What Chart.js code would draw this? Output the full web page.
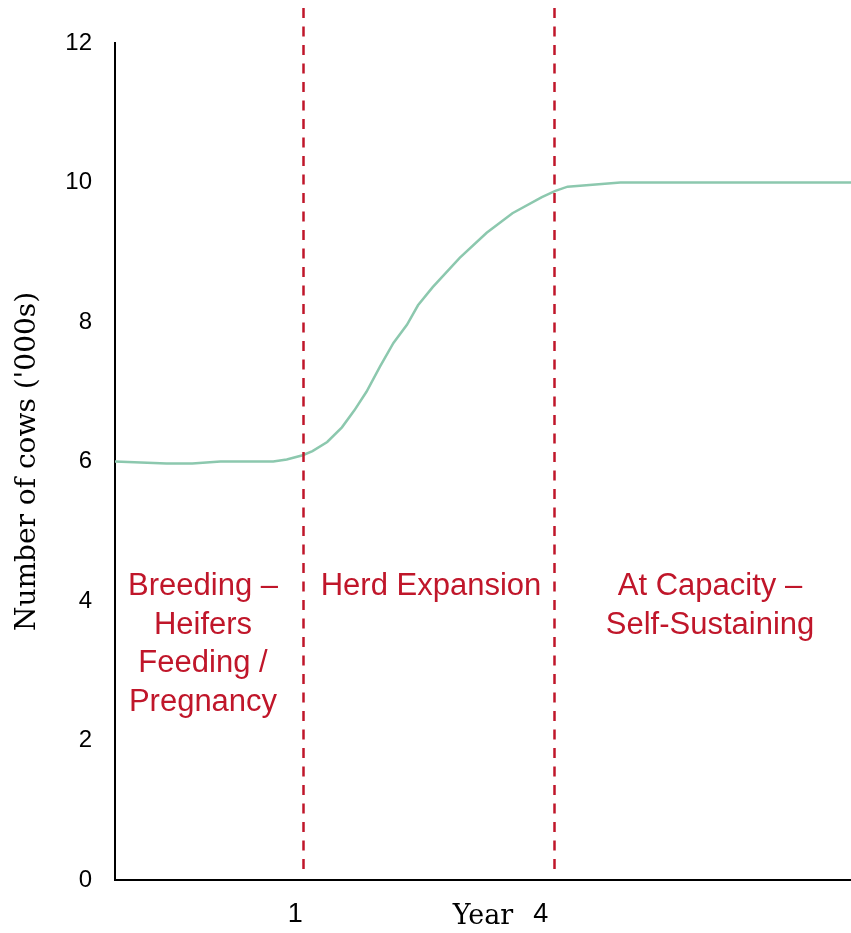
<!DOCTYPE html>
<html>
<head>
<meta charset="utf-8">
<script src="https://cdn.jsdelivr.net/npm/chart.js@4"></script>
<style>
  html, body { margin: 0; padding: 0; background: #fff; }
  #wrap { width: 851px; height: 933px; position: relative; }
</style>
</head>
<body>
<div id="wrap"><canvas id="herdChart"></canvas></div>
<script>
// herd size by month since start ('000 cows)
const months = [0, 4.2, 6.3, 8.6, 12.9, 14.0, 15.3, 16.1, 17.3, 18.5, 19.5, 20.5, 21.6, 22.7, 23.8, 24.7, 25.9, 28.1, 30.3, 32.4, 34.8, 35.9, 36.9, 41.2, 60];
const cows = [6.0, 5.97, 5.97, 6.0, 6.0, 6.03, 6.09, 6.15, 6.28, 6.49, 6.73, 7.0, 7.36, 7.70, 7.96, 8.24, 8.50, 8.92, 9.28, 9.56, 9.79, 9.88, 9.94, 10.0, 10.0];

// year markers on the x axis
const yearTickValues = [14.7, 34.7];
const yearTickLabels = ['1', '4'];

// where one phase ends and the next begins
const phaseBounds = [15.3, 35.8];
const phaseLabels = [
    ['Breeding –', 'Heifers', 'Feeding /', 'Pregnancy'],
    ['Herd Expansion'],
    ['At Capacity –', 'Self-Sustaining']
];

const red = 'rgb(192, 22, 42)';
const sans = '"Liberation Sans", Arial, sans-serif';
const serif = '"DejaVu Serif", serif';

const phasePlugin = {
    id: 'phases',
    afterDatasetsDraw(chart) {
        const ctx = chart.ctx;
        const x = chart.scales.x;
        ctx.save();

        // dashed phase dividers
        ctx.strokeStyle = red;
        ctx.lineWidth = 2.5;
        ctx.setLineDash([10, 8.5]);
        phaseBounds.forEach(b => {
            const px = Math.round(x.getPixelForValue(b)) + 0.5;
            ctx.beginPath();
            ctx.moveTo(px, 8);
            ctx.lineTo(px, 876);
            ctx.stroke();
        });

        // phase names
        ctx.setLineDash([]);
        ctx.fillStyle = red;
        ctx.font = '31px ' + sans;
        ctx.textAlign = 'center';
        ctx.textBaseline = 'alphabetic';
        const centers = [203, 431, 710];
        phaseLabels.forEach((lines, i) => {
            lines.forEach((txt, j) => {
                ctx.fillText(txt, centers[i], 595 + j * 38.5);
            });
        });
        ctx.restore();
    }
};

const ctx = document.getElementById('herdChart').getContext('2d');
new Chart(ctx, {
    type: 'line',
    data: {
        datasets: [{
            data: months.map((m, i) => ({ x: m, y: cows[i] })),
            borderColor: 'rgb(140, 200, 174)',
            borderWidth: 2.5,
            pointRadius: 0,
            tension: 0,
            fill: false
        }]
    },
    options: {
        responsive: true,
        maintainAspectRatio: false,
        animation: false,
        layout: { padding: { top: 43, right: 0, left: 0, bottom: 0 } },
        plugins: {
            legend: { display: false },
            tooltip: { enabled: false }
        },
        scales: {
            x: {
                type: 'linear',
                min: 0,
                max: 60,
                grid: { display: false, drawTicks: false },
                border: { display: true, color: '#000', width: 2 },
                afterBuildTicks: axis => {
                    axis.ticks = yearTickValues.map(v => ({ value: v }));
                },
                afterFit: axis => { axis.height = 53; },
                ticks: {
                    autoSkip: false,
                    maxRotation: 0,
                    padding: 18,
                    color: '#000',
                    font: { family: sans, size: 27 },
                    callback: (v, i) => yearTickLabels[i]
                },
                title: {
                    display: true,
                    text: 'Year',
                    color: '#000',
                    font: { family: serif, size: 27 },
                    padding: { top: 0, bottom: 0 }
                }
            },
            y: {
                min: 0,
                max: 12,
                grid: { display: false, drawTicks: false },
                border: { display: true, color: '#000', width: 2 },
                afterFit: axis => { axis.width = 115; },
                ticks: {
                    stepSize: 2,
                    padding: 23,
                    color: '#000',
                    font: { family: sans, size: 24 }
                },
                title: {
                    display: true,
                    text: "Number of cows ('000s)",
                    color: '#000',
                    font: { family: serif, size: 28 },
                    padding: { top: 11, bottom: 0 }
                }
            }
        }
    },
    plugins: [phasePlugin]
});
</script>
</body>
</html>
